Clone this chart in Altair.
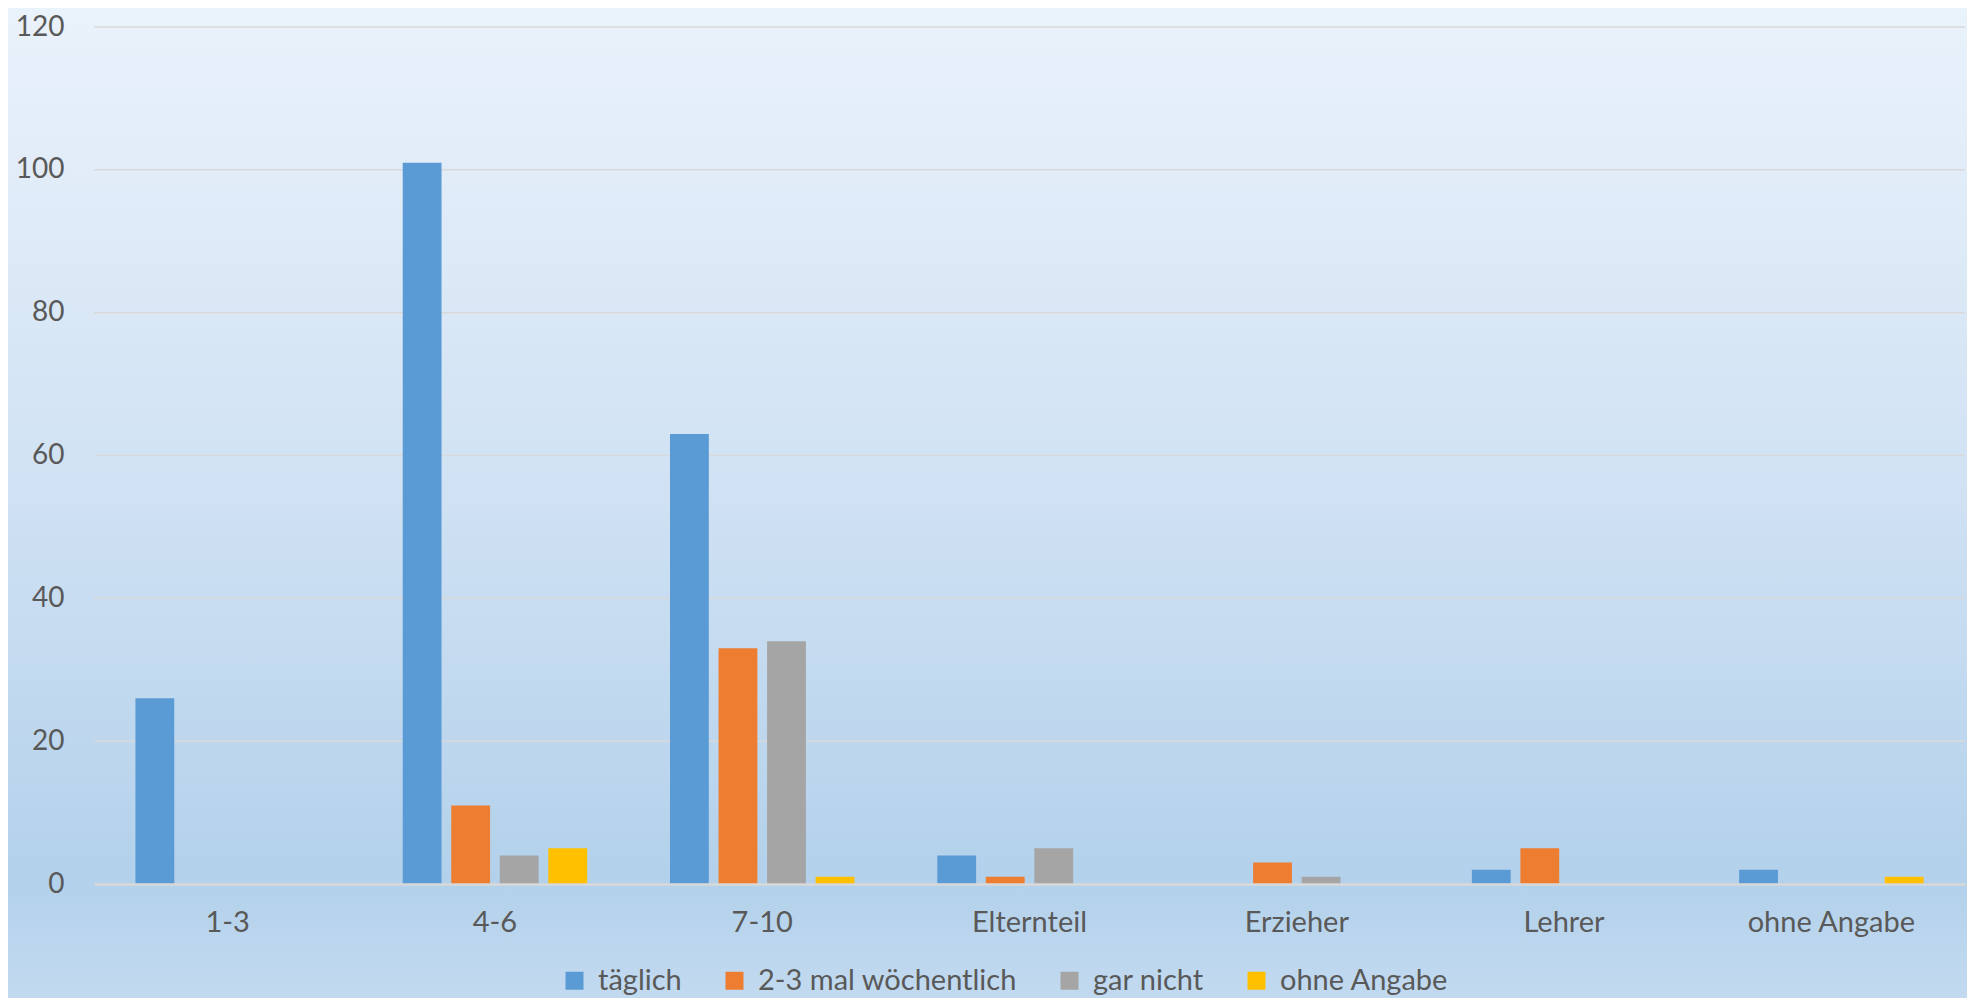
import altair as alt
import pandas as pd

categories = ["1-3", "4-6", "7-10", "Elternteil", "Erzieher", "Lehrer", "ohne Angabe"]
series = ["täglich", "2-3 mal wöchentlich", "gar nicht", "ohne Angabe"]
colors = ["#5B9BD5", "#ED7D31", "#A5A5A5", "#FFC000"]

taeglich = [26, 101, 63, 4, 0, 2, 2]
woechentlich = [0, 11, 33, 1, 3, 5, 0]
gar_nicht = [0, 4, 34, 5, 1, 0, 0]
ohne_angabe = [0, 5, 1, 0, 0, 0, 1]

grid_values = [20, 40, 60, 80, 100, 120]
y_ticks = [0, 20, 40, 60, 80, 100, 120]

rows = []
for s, vals in zip(series, [taeglich, woechentlich, gar_nicht, ohne_angabe]):
    for c, v in zip(categories, vals):
        rows.append({"cat": c, "series": s, "value": v})
df = pd.DataFrame(rows)

W, H = 1871, 857
PL, PT, PR, PB = 86, 19, 2, 114
FONT = "Lato"
TXT = "#595959"

gradient = alt.LinearGradient(
    gradient="linear",
    stops=[
        alt.GradientStop(offset=0, color="#EAF2FB"),
        alt.GradientStop(offset=0.5, color="#CFE1F3"),
        alt.GradientStop(offset=0.88, color="#B3D1EB"),
        alt.GradientStop(offset=1, color="#C2DAF0"),
    ],
    x1=0, x2=0, y1=0, y2=1,
)

bg = alt.Chart(pd.DataFrame({"a": [0]})).mark_rect(color=gradient).encode(
    x=alt.value(-PL), x2=alt.value(W + PR), y=alt.value(-PT), y2=alt.value(H + PB)
)

grid = alt.Chart(pd.DataFrame({"g": grid_values})).mark_rule(
    color="#D9D9D9", strokeWidth=1.5
).encode(
    y=alt.Y("g:Q", scale=alt.Scale(domain=[0, 120])),
    x=alt.value(0), x2=alt.value(W),
)

bars = alt.Chart(df).mark_bar().encode(
    x=alt.X(
        "cat:N", sort=categories,
        scale=alt.Scale(paddingInner=0.31, paddingOuter=0.155),
        axis=alt.Axis(
            title=None, labelAngle=0, ticks=False, domainColor="#D9D9D9",
            domainWidth=2.5, labelFont=FONT, labelFontSize=29, labelColor=TXT,
            labelPadding=24, zindex=1,
        ),
    ),
    xOffset=alt.XOffset("series:N", sort=series, scale=alt.Scale(paddingInner=0.2)),
    y=alt.Y(
        "value:Q", scale=alt.Scale(domain=[0, 120]),
        axis=alt.Axis(
            title=None, values=y_ticks, grid=False, ticks=False, domain=False,
            labelFont=FONT, labelFontSize=28, labelColor=TXT, labelPadding=30,
            zindex=1,
        ),
    ),
    color=alt.Color(
        "series:N", sort=series,
        scale=alt.Scale(domain=series, range=colors),
        legend=alt.Legend(
            title=None, orient="none", direction="horizontal",
            legendX=466, legendY=939,
            symbolType="square", symbolSize=324, symbolStrokeWidth=0,
            labelFont=FONT, labelFontSize=29, labelColor=TXT, labelLimit=400,
            columnPadding=38, labelOffset=9, zindex=1,
        ),
    ),
)

chart = alt.layer(bg, grid, bars).properties(
    width=W, height=H,
    autosize=alt.AutoSizeParams(type="none"),
    padding={"left": PL, "top": PT, "right": PR, "bottom": PB},
).configure_view(stroke=None)

chart.save("out.html", embed_options={"renderer": "svg", "actions": False})
